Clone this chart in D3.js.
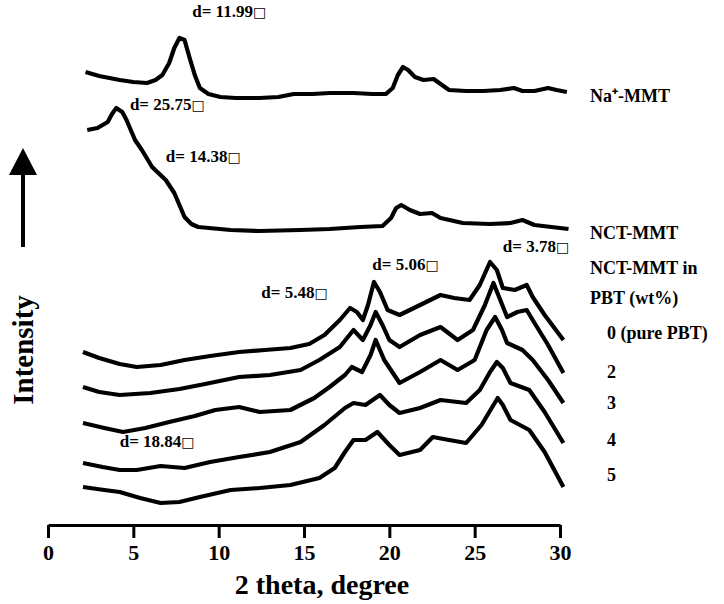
<!DOCTYPE html>
<html lang="en">
<head>
    <meta charset="UTF-8">
    <title>XRD patterns of Na+-MMT, NCT-MMT and PBT nanocomposites</title>
    <script src="https://d3js.org/d3.v7.min.js"></script>
    <style>
        body { margin: 0; background: #fff; }
        svg { display: block; }
        text { font-family: "Liberation Serif", "Times New Roman", serif; font-weight: bold; fill: #000; }
        .trace { fill: none; stroke: #000; stroke-width: 4.2px; stroke-linejoin: round; }
        .axis path, .axis line { stroke: #000; stroke-width: 3px; }
    </style>
</head>
<body>
<svg width="724" height="604"></svg>
<script>
// 2 theta (degree) vs intensity (a.u., stacked with vertical offsets)
const naMMT = [[2.2,453],[2.6,451],[3.0,449],[3.6,447],[4.2,445],[5.0,443],[5.8,442],[6.3,445],[6.7,450],[7.1,462],[7.4,477],[7.7,487],[8.0,485],[8.3,467],[8.6,450],[8.9,437],[9.4,431],[10.1,428],[11.0,427],[12.4,427],[13.5,428],[14.4,431],[15.5,431],[16.5,432],[17.9,432],[19.0,431],[19.8,431],[20.2,437],[20.5,450],[20.8,458],[21.1,455],[21.5,448],[22.0,445],[22.6,446],[23.0,441],[23.5,435],[24.5,434],[25.5,434],[26.5,435],[27.3,437],[27.8,434],[28.5,434],[29.3,437],[29.8,435],[30.4,433]];
const nctMMT = [[2.3,395],[2.9,397],[3.5,403],[3.75,411],[4.0,417],[4.35,413],[4.6,405],[5.1,385],[5.5,375],[6.1,358],[6.9,345],[7.4,332],[7.7,320],[8.0,308],[8.4,301],[8.8,298],[10.7,295],[12.4,294],[14.8,295],[16.5,296],[18.3,298],[19.6,299],[20.1,307],[20.4,317],[20.7,320],[21.2,315],[21.8,311],[22.5,312],[23.0,307],[24.3,302],[25.9,301],[27.1,302],[27.8,305],[28.5,300],[30.5,296]];
const pbt0 = [[2.05,173],[3.0,167],[4.2,161],[5.2,158],[6.6,160],[8.0,165],[9.5,169],[11.2,173],[12.7,175],[14.2,177],[15.3,181],[16.2,190],[17.1,205],[17.7,217],[18.1,213],[18.45,205],[18.75,220],[19.1,243],[19.45,233],[19.9,215],[20.6,210],[21.8,220],[23.0,230],[23.8,227],[24.7,225],[25.3,240],[25.9,263],[26.3,255],[26.65,237],[27.35,235],[28.05,240],[28.4,228],[29.1,210],[30.2,185]];
const pbt2 = [[2.05,138],[3.0,133],[4.2,130],[6.0,132],[7.7,136],[9.2,141],[11.2,148],[13.0,150],[14.8,155],[15.9,165],[17.1,178],[17.9,195],[18.45,185],[18.9,200],[19.2,213],[19.6,200],[20.0,185],[20.6,178],[21.8,190],[23.0,198],[24.0,185],[24.9,195],[25.6,220],[26.1,242],[26.5,225],[26.9,208],[27.5,213],[28.05,215],[28.4,205],[29.3,180],[30.2,152]];
const pbt3 = [[2.05,102],[3.3,97],[4.4,93],[5.7,97],[7.1,103],[8.6,109],[9.8,115],[11.2,118],[12.4,113],[14.2,115],[15.6,127],[16.5,138],[17.4,150],[17.8,158],[18.4,153],[18.9,170],[19.2,185],[19.7,165],[20.6,142],[21.8,153],[23.0,165],[24.0,155],[25.0,165],[25.7,195],[26.2,208],[26.6,195],[26.9,182],[27.8,175],[28.4,165],[29.3,145],[30.2,122]];
const pbt4 = [[2.05,62],[3.2,58],[4.2,55],[5.2,55],[6.6,59],[8.0,57],[9.5,63],[11.2,68],[13.0,73],[14.8,83],[16.2,100],[17.4,117],[17.9,122],[18.6,120],[19.45,130],[20.0,120],[20.6,112],[21.8,117],[23.0,125],[24.5,122],[25.3,135],[25.9,153],[26.3,163],[26.65,157],[27.1,142],[28.2,135],[29.1,113],[30.2,82]];
const pbt5 = [[2.05,38],[3.3,35],[4.2,33],[5.4,27],[6.6,22],[7.7,23],[8.9,28],[10.7,35],[12.4,37],[14.2,40],[15.9,47],[16.8,57],[17.4,73],[17.9,85],[18.6,85],[19.3,93],[20.0,80],[20.6,70],[21.8,75],[22.55,88],[23.5,85],[24.5,82],[25.4,100],[26.35,127],[26.65,120],[27.1,105],[28.2,95],[29.1,73],[30.2,38]];

const xTicks = [0, 5, 10, 15, 20, 25, 30];

// peak annotations: [label, 2theta, intensity]
const peakLabels = [
    ["d= 11.99", 8.45, 508],
    ["d= 25.75", 4.8, 415],
    ["d= 14.38", 6.9, 363],
    ["d= 5.48", 12.5, 227],
    ["d= 5.06", 19.0, 255],
    ["d= 3.78", 26.65, 273],
    ["d= 18.84", 4.2, 78]
];
// series labels on the right: [label, intensity]
const seriesLabels = [
    ["Na\u207A-MMT", 423],
    ["NCT-MMT", 286],
    ["NCT-MMT in", 251],
    ["PBT (wt%)", 221]
];
const wtLabels = [["0 (pure PBT)", 186], ["2", 147], ["3", 116], ["4", 79], ["5", 44]];

const svg = d3.select("svg");
const x = d3.scaleLinear().domain([0, 30]).range([48, 560]);
const y = d3.scaleLinear().domain([0, 500]).range([525, 25]);

const line = d3.line().x(d => x(d[0])).y(d => y(d[1]));

[naMMT, nctMMT, pbt0, pbt2, pbt3, pbt4, pbt5].forEach(s => {
    svg.append("path").attr("class", "trace").attr("d", line(s));
});

// x axis
const axis = svg.append("g")
    .attr("class", "axis")
    .attr("transform", `translate(0,${y(0)})`)
    .call(d3.axisBottom(x).tickValues(xTicks).tickSize(13).tickSizeOuter(0).tickPadding(6));
axis.selectAll("text")
    .attr("font-size", 22)
    .attr("font-family", "Liberation Serif")
    .attr("font-weight", "bold");

svg.append("text")
    .attr("x", 322).attr("y", 594)
    .attr("text-anchor", "middle")
    .attr("font-size", 28)
    .text("2 theta, degree");

// intensity arrow
svg.append("line")
    .attr("x1", 23).attr("x2", 23).attr("y1", 247).attr("y2", 170)
    .attr("stroke", "#000").attr("stroke-width", 4);
svg.append("path").attr("d", "M23,148 L9,175 L37,175 Z").attr("fill", "#000");
svg.append("text")
    .attr("transform", "translate(33,350) rotate(-90)")
    .attr("text-anchor", "middle")
    .attr("font-size", 29)
    .text("Intensity");

// peak labels with the (missing) angstrom glyph box
peakLabels.forEach(([t, px, py]) => {
    const g = svg.append("text")
        .attr("x", x(px)).attr("y", y(py))
        .attr("font-size", 17);
    g.append("tspan").text(t);
    g.append("tspan").attr("font-weight", "normal").attr("font-size", 14)
        .style("font-family", "DejaVu Sans").text("\u25A1");
});

seriesLabels.forEach(([t, v]) => {
    svg.append("text").attr("x", 590).attr("y", y(v)).attr("font-size", 18).text(t);
});
wtLabels.forEach(([t, v]) => {
    svg.append("text").attr("x", 607).attr("y", y(v)).attr("font-size", 18).text(t);
});
</script>
</body>
</html>
